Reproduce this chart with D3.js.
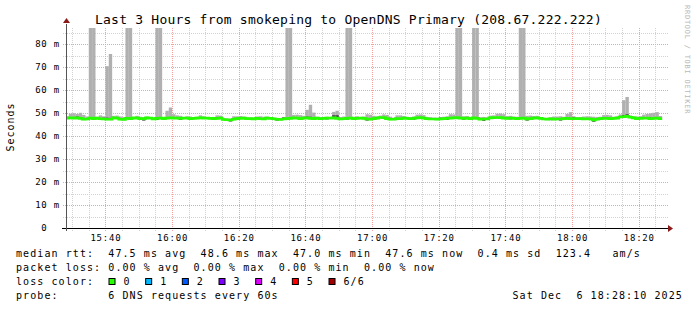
<!DOCTYPE html>
<html><head><meta charset="utf-8">
<script src="https://cdn.jsdelivr.net/npm/d3@7"></script>
<style>
body{margin:0;background:#fff}
svg{display:block}
text{font-family:"DejaVu Sans Mono",monospace;white-space:pre;fill:#000}
</style>
</head><body>
<svg id="chart" width="697" height="310"></svg>
<script>
// ---------------- data ----------------
const titleText = "Last 3 Hours from smokeping to OpenDNS Primary (208.67.222.222)";
const yLabel = "Seconds";
const credit = "RRDTOOL / TOBI OETIKER";
const yTickValues = [0, 10, 20, 30, 40, 50, 60, 70, 80];
const yTickLabels = ["0  ", "10 m", "20 m", "30 m", "40 m", "50 m", "60 m", "70 m", "80 m"];
const yMax = 87;
// one slot per minute, first slot starts 15:28
const medianMs = [
 47.8,47.9,47.8,47.9,47.7,47.3,47.4,47.8,47.6,47.8,
 47.5,47.4,47.3,47.3,47.9,47.8,47.3,47.2,47.7,47.6,
 47.9,47.8,47.6,47.5,47.9,47.8,47.4,47.7,47.8,47.6,
 47.8,47.9,47.8,47.8,47.7,47.8,47.8,47.6,47.7,47.8,
 47.9,47.8,47.8,47.7,47.6,47.7,47.8,47.2,47.1,47.0,
 47.3,47.6,47.7,47.8,47.5,47.6,47.4,47.7,47.5,47.4,
 47.8,47.7,47.5,47.3,47.2,47.4,47.6,47.7,47.9,47.8,
 47.6,47.8,47.9,47.7,47.6,47.8,47.5,47.7,47.8,47.8,
 47.9,47.7,47.4,47.5,47.7,47.8,47.6,47.7,47.8,47.7,
 47.4,47.3,47.6,47.8,48.1,48.0,47.6,47.3,47.3,47.6,
 47.5,47.8,47.7,47.5,47.7,47.9,48.0,47.8,47.5,47.4,
 47.4,47.3,47.4,47.6,47.7,47.8,47.9,48.0,47.8,47.7,
 47.8,47.6,47.9,47.7,47.3,47.4,47.4,47.9,48.0,48.1,
 48.0,47.8,47.7,47.8,47.7,47.6,47.7,47.8,47.4,47.6,
 47.8,47.9,47.7,47.4,47.3,47.5,47.3,47.4,47.4,47.6,
 47.7,47.6,47.5,47.6,47.6,47.4,47.5,47.4,47.0,47.3,
 47.6,47.7,47.7,47.6,47.7,47.8,48.3,48.4,48.6,48.2,
 47.9,47.6,47.7,47.8,47.8,47.6,47.7,47.8,47.6
];
const maxMs = [
 48.6,49.7,49.9,49.6,50.1,49.2,48.5,150,150,48.4,
 49.0,48.6,70.4,75.7,48.8,48.9,48.5,48.3,150,150,
 48.2,48.8,48.4,48.2,48.5,48.3,48.0,150,150,48.3,
 51.0,52.4,49.5,49.0,48.8,48.3,48.6,48.5,48.2,48.4,
 49.0,48.6,48.3,48.2,48.3,49.0,48.9,47.8,47.6,47.5,
 48.6,48.6,48.7,48.5,48.2,48.1,48.0,48.5,48.6,48.4,
 48.5,48.2,48.0,47.8,47.8,48.1,150,150,49.2,49.3,
 49.1,48.8,51.4,53.6,50.2,48.4,48.3,48.2,48.4,48.3,
 50.5,51.0,48.3,48.5,150,150,48.4,48.6,48.3,48.5,
 49.5,49.3,48.8,48.6,48.9,49.4,49.2,48.4,48.0,49.0,
 49.0,48.7,48.4,48.3,48.5,49.3,49.4,49.1,48.3,48.2,
 48.0,48.0,48.2,48.4,48.6,49.5,49.4,150,150,48.6,
 48.7,48.3,150,150,48.2,48.3,48.2,48.9,49.0,49.7,
 49.8,49.5,48.7,48.8,48.5,48.4,150,150,48.8,48.9,
 48.7,48.8,48.3,48.0,47.9,48.2,48.5,48.5,48.6,48.4,
 49.6,50.4,48.6,48.2,48.3,48.5,48.6,48.5,48.4,48.3,
 48.4,49.1,49.2,49.0,48.4,48.6,49.4,55.6,57.0,49.0,
 48.6,48.5,48.6,49.3,49.6,49.9,50.1,50.4,48.7
];
// darker inner smoke (slot index, offset from median in ms)
const innerSlots = [3,11,12,13,23,27,34,44,49,55,63,65,72,73,78,80,81,84,90,96,104,112,114,119,125,133,138,145,148,152,158,167,168,171,175];
const innerDelta = [0.6,0.6,0.7,0.6,-0.8,-0.7,-0.7,-0.6,-0.7,-0.6,-0.6,0.7,0.6,0.7,-0.6,1.2,1.4,-0.6,-0.7,-0.6,-0.6,0.6,-0.7,-0.6,-0.8,-0.6,-0.7,-0.6,-0.7,0.6,-0.8,0.7,0.9,-0.6,0.6];

const legendLines = [
 "median rtt:  47.5 ms avg  48.6 ms max  47.0 ms min  47.6 ms now  0.4 ms sd  123.4   am/s",
 "packet loss: 0.00 % avg  0.00 % max  0.00 % min  0.00 % now",
 "loss color:",
 "probe:       6 DNS requests every 60s"
];
const lossLabels = ["0", "1", "2", "3", "4", "5", "6/6"];
const lossColors = ["#26ff00", "#00b8ff", "#0059ff", "#7e00ff", "#dd00ff", "#ff0000", "#a10000"];
const dateText = "Sat Dec  6 18:28:10 2025";

// ---------------- layout ----------------
const X0 = 66, X1 = 666, Y0 = 228, Y1 = 28;
const tStart = new Date(Date.UTC(2025, 11, 6, 15, 28, 10));
const tEnd = new Date(Date.UTC(2025, 11, 6, 18, 28, 10));
const firstSlot = new Date(Date.UTC(2025, 11, 6, 15, 28, 0));
const MIN = 60000;

const svg = d3.select("#chart");
svg.append("rect").attr("width", 697).attr("height", 310).attr("fill", "#fff");

const x = d3.scaleUtc().domain([tStart, tEnd]).range([X0, X1]);
const y = d3.scaleLinear().domain([0, yMax]).range([Y0, Y1]);

// grid
const grid = svg.append("g");
const minorX = d3.utcMinute.every(5).range(tStart, tEnd);
const majorX = d3.utcMinute.every(20).range(tStart, tEnd);
grid.selectAll(".vx").data(minorX.filter(d => d.getUTCMinutes() % 20 !== 0)).join("line")
  .attr("x1", d => Math.round(x(d)) + 0.5).attr("x2", d => Math.round(x(d)) + 0.5)
  .attr("y1", Y0 + 3).attr("y2", Y1)
  .attr("stroke", "#d2d2d2").attr("stroke-dasharray", "1,1");
const minorY = d3.range(5, yMax, 10);
grid.selectAll(".hy").data(minorY).join("line")
  .attr("x1", X0 - 3).attr("x2", X1 + 3)
  .attr("y1", d => Math.round(y(d)) + 0.5).attr("y2", d => Math.round(y(d)) + 0.5)
  .attr("stroke", "#d2d2d2").attr("stroke-dasharray", "1,1");
grid.selectAll(".mx").data(majorX).join("line")
  .attr("x1", d => Math.round(x(d)) + 0.5).attr("x2", d => Math.round(x(d)) + 0.5)
  .attr("y1", Y0 + 3).attr("y2", Y1)
  .attr("stroke", "#f4a0a0").attr("stroke-dasharray", "1,1");
grid.selectAll(".my").data(yTickValues.filter(v => v > 0)).join("line")
  .attr("x1", X0 - 3).attr("x2", X1 + 3)
  .attr("y1", d => Math.round(y(d)) + 0.5).attr("y2", d => Math.round(y(d)) + 0.5)
  .attr("stroke", "#f4a0a0").attr("stroke-dasharray", "1,1");

// clip
svg.append("clipPath").attr("id", "plot").append("rect")
  .attr("x", X0).attr("y", Y1).attr("width", X1 - X0).attr("height", Y0 - Y1);
const plot = svg.append("g").attr("clip-path", "url(#plot)");

const slotStart = i => new Date(firstSlot.getTime() + i * MIN);
const slotEnd = i => new Date(firstSlot.getTime() + (i + 1) * MIN);

// outer smoke
plot.selectAll(".smoke").data(maxMs).join("rect")
  .attr("x", (d, i) => x(slotStart(i)))
  .attr("width", (d, i) => x(slotEnd(i)) - x(slotStart(i)) + 0.05)
  .attr("y", d => y(d))
  .attr("height", (d, i) => Math.max(0, y(medianMs[i] - 0.4) - y(d)))
  .attr("fill", "#b0b0b0");

// inner smoke
plot.selectAll(".inner").data(innerSlots).join("rect")
  .attr("x", s => x(slotStart(s)))
  .attr("width", s => x(slotEnd(s)) - x(slotStart(s)))
  .attr("y", (s, k) => y(Math.max(medianMs[s], medianMs[s] + innerDelta[k])))
  .attr("height", (s, k) => Math.abs(y(medianMs[s]) - y(medianMs[s] + innerDelta[k])))
  .attr("fill", "#505050");

// median line
const pts = medianMs.map((v, i) => [x(slotStart(i)), y(v)]);
pts.push([x(slotEnd(medianMs.length - 1)), y(medianMs[medianMs.length - 1])]);
plot.append("path")
  .attr("d", d3.line().curve(d3.curveStepAfter)(pts))
  .attr("fill", "none").attr("stroke", lossColors[0]).attr("stroke-width", 2.6);

// axes
const axes = svg.append("g");
axes.append("line").attr("x1", X0 - 4).attr("x2", X1 + 3).attr("y1", Y0 + 0.5).attr("y2", Y0 + 0.5)
  .attr("stroke", "#000");
axes.append("line").attr("x1", X0 + 0.5).attr("x2", X0 + 0.5).attr("y1", Y0 + 3).attr("y2", Y1 - 4)
  .attr("stroke", "#555");
axes.append("path").attr("d", `M${X1 + 2},${Y0 - 3} L${X1 + 7},${Y0 + 0.5} L${X1 + 2},${Y0 + 4} Z`)
  .attr("fill", "#8b1a1a");
axes.append("path").attr("d", `M${X0 - 3},${Y1 - 5} L${X0 + 0.5},${Y1 - 10} L${X0 + 4},${Y1 - 5} Z`)
  .attr("fill", "#8b1a1a");

// tick labels
const fmt = d3.utcFormat("%H:%M");
svg.append("g").selectAll("text").data(majorX).join("text")
  .attr("x", d => x(d) + 0.5).attr("y", 240.5)
  .attr("text-anchor", "middle")
  .style("font-size", "9px").style("letter-spacing", "0.8px")
  .text(d => fmt(d));
svg.append("g").selectAll("text").data(yTickValues).join("text")
  .attr("x", 60).attr("y", d => y(d) + 3.2)
  .attr("text-anchor", "end")
  .style("font-size", "9px").style("letter-spacing", "0.8px")
  .text((d, i) => yTickLabels[i]);

// title
svg.append("text").attr("x", 348.5).attr("y", 24).attr("text-anchor", "middle")
  .style("font-size", "13px").style("letter-spacing", "0.22px").text(titleText);

// y label
svg.append("text").attr("transform", "translate(14,127) rotate(-90)").attr("text-anchor", "middle")
  .style("font-size", "10px").style("letter-spacing", "1px").text(yLabel);

// credit
svg.append("text").attr("transform", "translate(685,5) rotate(90)")
  .style("font-size", "7px").style("letter-spacing", "0.75px").style("fill", "#b8b8b8").text(credit);

// legend
const lgY = [257, 270.5, 285.3, 299];
svg.append("g").selectAll("text").data(legendLines).join("text")
  .attr("x", 16).attr("y", (d, i) => lgY[i])
  .style("font-size", "10px").style("letter-spacing", "1.08px")
  .text(d => d);
const lc = svg.append("g");
lc.selectAll("rect").data(lossColors).join("rect")
  .attr("x", (d, i) => 109 + 36.67 * i).attr("y", 278.5)
  .attr("width", 6).attr("height", 6)
  .attr("fill", d => d).attr("stroke", "#000").attr("stroke-width", 1);
lc.selectAll("text").data(lossLabels).join("text")
  .attr("x", (d, i) => 123.5 + 36.67 * i).attr("y", lgY[2])
  .style("font-size", "10px").style("letter-spacing", "1.08px")
  .text(d => d);
svg.append("text").attr("x", 512.5).attr("y", lgY[3])
  .style("font-size", "10px").style("letter-spacing", "1.08px").text(dateText);
</script>
</body></html>
